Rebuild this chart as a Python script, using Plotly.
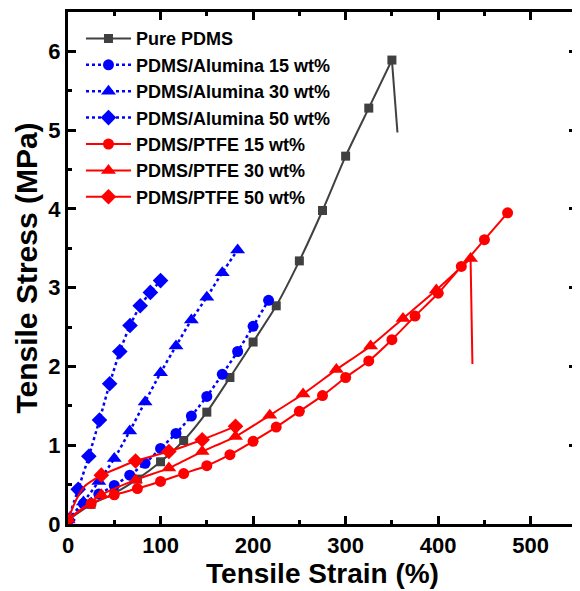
import plotly.graph_objects as go

# ---------------- data ----------------
pdms_x = [0, 25, 50, 75, 100, 125, 150, 175, 200, 225, 250, 275, 300, 325, 350]
pdms_y = [0.05, 0.25, 0.39, 0.57, 0.79, 1.06, 1.42, 1.86, 2.31, 2.77, 3.34, 3.98, 4.67, 5.28, 5.89]
pdms_break_x = [350, 356]
pdms_break_y = [5.89, 4.97]

al15_x = [0, 16.7, 33.3, 50, 66.7, 83.3, 100, 116.7, 133.3, 150, 166.7, 183.3, 200, 216.7]
al15_y = [0.05, 0.26, 0.38, 0.49, 0.62, 0.77, 0.96, 1.15, 1.37, 1.62, 1.90, 2.19, 2.51, 2.84]

al30_x = [0, 16.7, 33.3, 50, 66.7, 83.3, 100, 116.7, 133.3, 150, 166.7, 183.3]
al30_y = [0.05, 0.28, 0.54, 0.83, 1.18, 1.55, 1.92, 2.26, 2.59, 2.88, 3.19, 3.48]

al50_x = [0, 11, 22.5, 34, 45, 56, 67, 78, 89, 100]
al50_y = [0.05, 0.44, 0.86, 1.32, 1.78, 2.19, 2.52, 2.77, 2.94, 3.09]

pt15_x = [0, 25, 50, 75, 100, 125, 150, 175, 200, 225, 250, 275, 300, 325, 350, 375, 400, 425, 450, 475]
pt15_y = [0.06, 0.26, 0.37, 0.45, 0.54, 0.64, 0.74, 0.88, 1.05, 1.23, 1.43, 1.63, 1.86, 2.07, 2.34, 2.64, 2.93, 3.27, 3.61, 3.95]

pt30_x = [0, 36, 73, 109, 145, 181, 218, 254, 290, 327, 362, 398, 435]
pt30_y = [0.06, 0.37, 0.56, 0.71, 0.92, 1.11, 1.38, 1.65, 1.96, 2.26, 2.61, 2.97, 3.37]
pt30_break_x = [435, 437]
pt30_break_y = [3.37, 2.03]

pt50_x = [36, 73, 109, 145, 181]
pt50_y = [0.62, 0.80, 0.92, 1.07, 1.24]
pt50_start_x = [0, 9, 18, 36]
pt50_start_y = [0.06, 0.31, 0.48, 0.62]

x_ticks = [0, 100, 200, 300, 400, 500]
y_ticks = [0, 1, 2, 3, 4, 5, 6]

GRAY = "#404040"
BLUE = "#0000FF"
RED = "#FF0000"
FONT = "Liberation Sans"

fig = go.Figure()

def add(x, y, name, color, symbol, dash, msize, show=True, markers=True):
    fig.add_trace(go.Scatter(
        x=x, y=y, name=name, showlegend=show,
        mode="lines+markers" if markers else "lines",
        line=dict(color=color, width=2 if dash == "solid" else 2.5, dash=dash,
                  shape="spline", smoothing=0.6),
        marker=dict(symbol=symbol, size=msize, color=color, line=dict(width=0)),
    ))

add(pdms_x, pdms_y, "Pure PDMS", GRAY, "square", "solid", 9)
add(pdms_break_x, pdms_break_y, "", GRAY, "square", "solid", 0, show=False, markers=False)
add(al15_x, al15_y, "PDMS/Alumina 15 wt%", BLUE, "circle", "dot", 11)
add(al30_x, al30_y, "PDMS/Alumina 30 wt%", BLUE, "triangle-up", "dot", 13)
add(al50_x, al50_y, "PDMS/Alumina 50 wt%", BLUE, "diamond", "dot", 12)
add(pt15_x, pt15_y, "PDMS/PTFE 15 wt%", RED, "circle", "solid", 11)
add(pt30_x, pt30_y, "PDMS/PTFE 30 wt%", RED, "triangle-up", "solid", 13)
add(pt30_break_x, pt30_break_y, "", RED, "circle", "solid", 0, show=False, markers=False)
add(pt50_x, pt50_y, "PDMS/PTFE 50 wt%", RED, "diamond", "solid", 12)
add(pt50_start_x, pt50_start_y, "", RED, "diamond", "solid", 0, show=False, markers=False)

axis_common = dict(
    showline=True, linewidth=3, linecolor="black", mirror="allticks",
    ticks="inside", ticklen=8, tickwidth=2.5, tickcolor="black",
    showgrid=False, zeroline=False, automargin=False,
    tickfont=dict(family=FONT, size=22, color="black", weight="bold"),
)

fig.update_xaxes(
    range=[0, 550], tickvals=x_ticks, ticktext=[str(v) for v in x_ticks],
    minor=dict(ticks="inside", ticklen=4, tickwidth=2.5, dtick=50, tick0=0, tickcolor="black", showgrid=False),
    title=dict(text="Tensile Strain (%)", standoff=6,
               font=dict(family=FONT, size=28, color="black", weight="bold")),
    **axis_common,
)
fig.update_yaxes(
    range=[0, 6.5], tickvals=y_ticks, ticktext=[str(v) for v in y_ticks],
    minor=dict(ticks="inside", ticklen=4, tickwidth=2.5, dtick=0.5, tick0=0, tickcolor="black", showgrid=False),
    title=dict(text="Tensile Stress (MPa)", standoff=2,
               font=dict(family=FONT, size=30, color="black", weight="bold")),
    **axis_common,
)

# the page adds an 8px body margin, so the figure is 8px smaller and margins shifted
fig.update_layout(
    width=572, height=583,
    margin=dict(l=60, r=3, t=4, b=67, pad=0),
    paper_bgcolor="white", plot_bgcolor="white",
    showlegend=True,
    legend=dict(
        x=0.0255, y=0.984, xanchor="left", yanchor="top",
        bgcolor="rgba(0,0,0,0)", borderwidth=0,
        font=dict(family=FONT, size=18, color="black", weight="bold"),
        itemwidth=45, tracegroupgap=0,
    ),
)

fig.write_html("out.html")
